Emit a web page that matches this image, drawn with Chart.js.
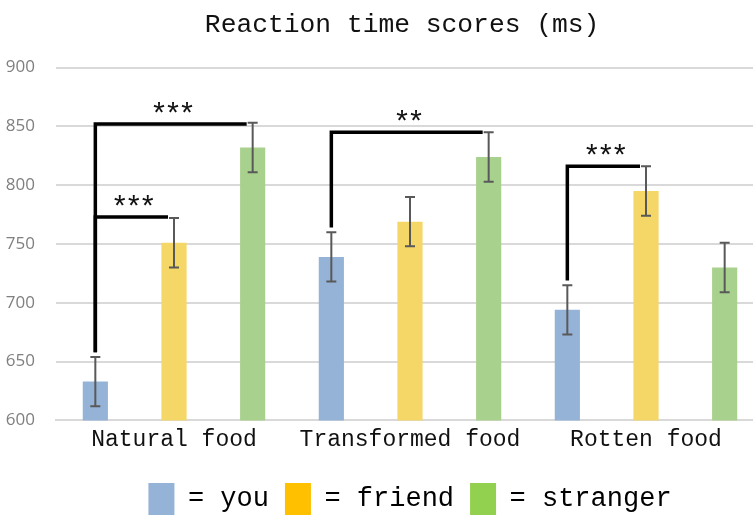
<!DOCTYPE html>
<html>
<head>
<meta charset="utf-8">
<script src="https://cdn.jsdelivr.net/npm/chart.js@4.4.1/dist/chart.umd.min.js"></script>
<style>
  html, body { margin: 0; padding: 0; background: #fff; overflow: hidden; }
  #chart { position: absolute; left: 0; top: 0; }
</style>
</head>
<body>
<canvas id="chart" width="808" height="525"></canvas>
<script>
// Reaction time chart
var categories = ['Natural food', 'Transformed food', 'Rotten food'];
var seriesNames = ['you', 'friend', 'stranger'];
var youValues = [633, 739, 694];
var friendValues = [751, 769, 795];
var strangerValues = [832, 824, 730];
var youErrors = [21, 21, 21];
var friendErrors = [21, 21, 21];
var strangerErrors = [21, 21, 21];
var yMin = 600, yMax = 900, yStep = 50;

// significance brackets: category, from series, to series, top value, label
var bracketCategory = [0, 0, 1, 2];
var bracketFrom = [0, 0, 0, 0];
var bracketTo = [2, 1, 2, 1];
var bracketTop = [852, 773, 845, 816];
var bracketLabel = ['***', '***', '**', '***'];

var barColors = ['#95b3d7', '#f4d766', '#a9d18e'];
var legendColors = ['#95b3d7', '#ffc000', '#92d050'];
var mono = "'Liberation Mono', 'DejaVu Sans Mono', monospace";

var errorBars = {
  id: 'errorBars',
  afterDatasetsDraw: function(chart) {
    var ctx = chart.ctx, y = chart.scales.y;
    ctx.save();
    ctx.strokeStyle = '#595959';
    ctx.lineWidth = 2;
    chart.data.datasets.forEach(function(ds, i) {
      chart.getDatasetMeta(i).data.forEach(function(bar, j) {
        var top = y.getPixelForValue(ds.data[j] + ds.errors[j]);
        var bot = y.getPixelForValue(ds.data[j] - ds.errors[j]);
        ctx.beginPath();
        ctx.moveTo(bar.x, top); ctx.lineTo(bar.x, bot);
        ctx.moveTo(bar.x - 5, top); ctx.lineTo(bar.x + 5, top);
        ctx.moveTo(bar.x - 5, bot); ctx.lineTo(bar.x + 5, bot);
        ctx.stroke();
      });
    });
    ctx.restore();
  }
};

var brackets = {
  id: 'brackets',
  afterDatasetsDraw: function(chart) {
    var ctx = chart.ctx, y = chart.scales.y;
    ctx.save();
    ctx.strokeStyle = '#000';
    ctx.fillStyle = '#111';
    ctx.lineWidth = 3.5;
    ctx.lineJoin = 'miter';
    ctx.font = '30px ' + mono;
    ctx.letterSpacing = '-4px';
    ctx.textAlign = 'center';
    ctx.textBaseline = 'alphabetic';
    for (var i = 0; i < bracketCategory.length; i++) {
      var c = bracketCategory[i];
      var fromDs = chart.data.datasets[bracketFrom[i]];
      var a = chart.getDatasetMeta(bracketFrom[i]).data[c];
      var b = chart.getDatasetMeta(bracketTo[i]).data[c];
      var x1 = a.x, x2 = b.x - 6;
      var yTop = y.getPixelForValue(bracketTop[i]);
      var yBot = y.getPixelForValue(fromDs.data[c] + fromDs.errors[c] + 4);
      ctx.beginPath();
      ctx.moveTo(x1, yBot);
      ctx.lineTo(x1, yTop);
      ctx.lineTo(x2, yTop);
      ctx.stroke();
      ctx.fillText(bracketLabel[i], (x1 + x2) / 2, yTop);
    }
    ctx.restore();
  }
};

var values = [youValues, friendValues, strangerValues];
var errors = [youErrors, friendErrors, strangerErrors];

new Chart(document.getElementById('chart'), {
  type: 'bar',
  data: {
    labels: categories,
    datasets: seriesNames.map(function(name, i) {
      return {
        label: name,
        data: values[i],
        errors: errors[i],
        backgroundColor: barColors[i],
        borderWidth: 0,
        barPercentage: 0.32,
        categoryPercentage: 1
      };
    })
  },
  options: {
    responsive: false,
    animation: false,
    layout: { padding: { left: 6, right: 44, top: 0, bottom: 0 } },
    plugins: {
      title: {
        display: true,
        fullSize: false,
        // trailing space nudges the centred title slightly left, as in the original
        text: 'Reaction time scores (ms) ',
        color: '#111',
        font: { family: mono, size: 26.3, weight: 'normal' },
        padding: { top: 9, bottom: 27 }
      },
      legend: {
        position: 'bottom',
        fullSize: false,
        labels: {
          color: '#111',
          font: { family: mono, size: 27 },
          boxWidth: 26,
          boxHeight: 32,
          padding: 16,
          generateLabels: function(chart) {
            return seriesNames.map(function(name, i) {
              return {
                text: '= ' + name,
                fillStyle: legendColors[i],
                strokeStyle: legendColors[i],
                lineWidth: 0,
                datasetIndex: i
              };
            });
          }
        }
      },
      tooltip: { enabled: false }
    },
    scales: {
      x: {
        grid: { display: false },
        border: { color: '#d9d9d9', width: 2 },
        ticks: { color: '#111', font: { family: mono, size: 23 }, padding: -2 },
        afterFit: function(scale) {
          scale.paddingLeft = 0;
          scale.paddingRight = 0;
          scale.height += 15;
        }
      },
      y: {
        min: yMin,
        max: yMax,
        grid: { color: '#d9d9d9', lineWidth: 2, drawTicks: false },
        border: { display: false },
        ticks: {
          stepSize: yStep,
          color: '#7f7f7f',
          font: { family: "'Open Sans', sans-serif", size: 17 },
          padding: 21
        },
        afterFit: function(scale) {
          scale.width = 50;
        }
      }
    }
  },
  plugins: [errorBars, brackets]
});
</script>
</body>
</html>
